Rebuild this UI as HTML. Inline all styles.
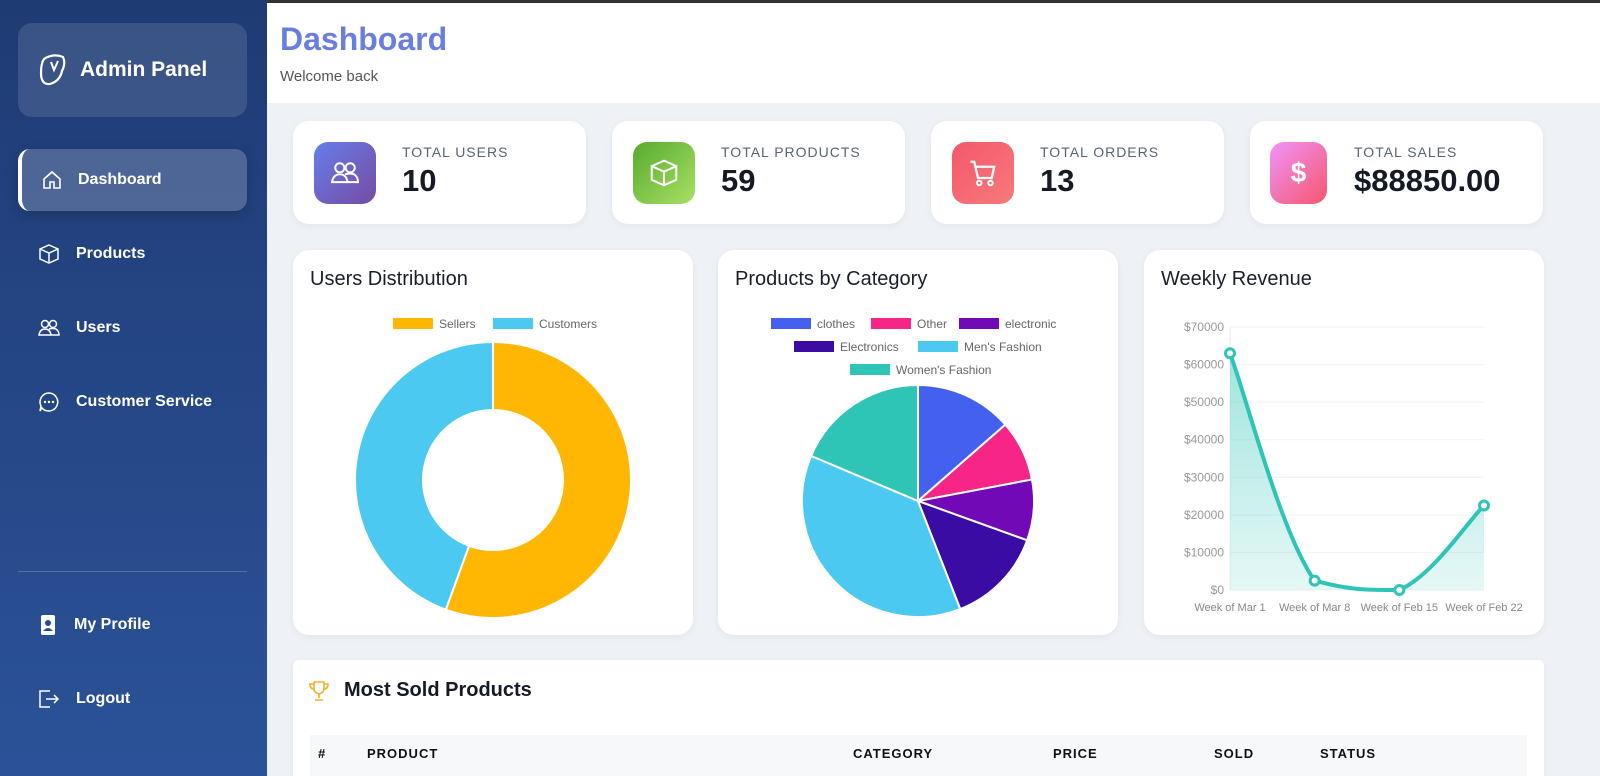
<!DOCTYPE html>
<html><head><meta charset="utf-8">
<style>
*{box-sizing:border-box;margin:0;padding:0}
html{background:#eef1f6;overflow:hidden}
body{width:1600px;height:776px;overflow:hidden;font-family:"Liberation Sans",sans-serif;background:#eef1f6;position:relative}
.sb{position:absolute;left:0;top:0;width:267px;height:776px;background:linear-gradient(180deg,#1f3b74,#2b5298);color:#fff}
.brand{position:absolute;left:18px;top:23px;width:229px;height:94px;border-radius:14px;background:rgba(255,255,255,.12);display:flex;align-items:center;padding-left:20px;font-weight:bold;font-size:21px}
.nav{position:absolute;left:18px;width:229px;height:62px;border-radius:12px;display:flex;align-items:center;padding-left:20px;font-size:16px;font-weight:bold}
.nav svg{margin-right:16px}
.act{background:rgba(255,255,255,.2);border-left:4px solid #fff;box-shadow:0 4px 12px rgba(0,0,0,.2)}
.hdr{position:absolute;left:267px;top:0;width:1333px;height:103px;background:#fff;border-top:3px solid #333}
.card{position:absolute;background:#fff;border-radius:16px;box-shadow:0 2px 8px rgba(0,0,0,.05)}
.ic{position:absolute;left:21px;top:21px;width:62px;height:62px;border-radius:14px;display:flex;align-items:center;justify-content:center;color:#fff}
.lbl{position:absolute;left:109px;top:23px;font-size:14px;letter-spacing:1px;color:#5b6472}
.val{position:absolute;left:109px;top:42px;font-size:31px;font-weight:bold;color:#151a26}
.ct{position:absolute;left:17px;top:18px;font-size:20px;color:#1a1f2b}
th{font-size:13px;text-align:left;font-weight:bold;color:#111;letter-spacing:1px}
</style></head><body>
<div class="sb">
<div class="brand"><svg width="30" height="34" viewBox="0 0 30 34" style="margin-right:12px"><path d="M6 6 Q15 0 25 4 Q28 10 24 18 Q22 28 12 31 Q3 32 3 20 Q3 10 6 6Z" fill="none" stroke="#fff" stroke-width="2.2"/><path d="M13 9 L16 17 L20 8" fill="none" stroke="#fff" stroke-width="2"/></svg>Admin Panel</div>
<div class="nav act" style="top:149px"><svg width="20" height="20" viewBox="0 0 20 20"><path d="M2 9 L10 2 L18 9 V18 H12 V12 H8 V18 H2Z" fill="none" stroke="#fff" stroke-width="1.6"/></svg>Dashboard</div>
<div class="nav" style="top:223px"><svg width="22" height="22" viewBox="0 0 22 22"><path d="M11 2 L20 6 V16 L11 20 L2 16 V6Z M2 6 L11 10 L20 6 M11 10 V20" fill="none" stroke="#fff" stroke-width="1.5"/></svg>Products</div>
<div class="nav" style="top:297px"><svg width="22" height="20" viewBox="0 0 22 20"><circle cx="7" cy="6" r="3.5" fill="none" stroke="#fff" stroke-width="1.5"/><circle cx="15" cy="6" r="3.5" fill="none" stroke="#fff" stroke-width="1.5"/><path d="M1 17 Q2 11 7 11 Q12 11 13 17Z M11 11 Q15 10 18 11 Q21 13 21 17 H13" fill="none" stroke="#fff" stroke-width="1.5"/></svg>Users</div>
<div class="nav" style="top:371px"><svg width="22" height="22" viewBox="0 0 22 22"><path d="M11 2 A9 9 0 1 1 4 17 L2 20 L3 15 A9 9 0 0 1 11 2Z" fill="none" stroke="#fff" stroke-width="1.5"/><circle cx="7" cy="11" r="1.2" fill="#fff"/><circle cx="11" cy="11" r="1.2" fill="#fff"/><circle cx="15" cy="11" r="1.2" fill="#fff"/></svg>Customer Service</div>
<div style="position:absolute;left:18px;top:571px;width:229px;height:1px;background:rgba(255,255,255,.2)"></div>
<div class="nav" style="top:594px"><svg width="20" height="22" viewBox="0 0 20 22"><rect x="3" y="1" width="14" height="20" rx="2" fill="#fff"/><circle cx="10" cy="9" r="3" fill="#2a4d8c"/><path d="M5 17 Q10 11 15 17Z" fill="#2a4d8c"/></svg>My Profile</div>
<div class="nav" style="top:668px"><svg width="22" height="20" viewBox="0 0 22 20"><path d="M12 2 H2 V18 H12 M8 10 H20 M16 6 L20 10 L16 14" fill="none" stroke="#fff" stroke-width="1.5"/></svg>Logout</div>
</div>
<div class="hdr">
<div style="position:absolute;left:13px;top:18px;font-size:32px;font-weight:bold;color:#6a7ee0">Dashboard</div>
<div style="position:absolute;left:13px;top:65px;font-size:15px;color:#555">Welcome back</div>
</div>

<div class="card" style="left:293px;top:121px;width:293px;height:103px"><div class="ic" style="background:linear-gradient(135deg,#667eea,#764ba2)"><svg width="30" height="26" viewBox="0 0 22 20"><circle cx="7" cy="6" r="3.5" fill="none" stroke="#fff" stroke-width="1.5"/><circle cx="15" cy="6" r="3.5" fill="none" stroke="#fff" stroke-width="1.5"/><path d="M1 17 Q2 11 7 11 Q12 11 13 17Z M11 11 Q15 10 18 11 Q21 13 21 17 H13" fill="none" stroke="#fff" stroke-width="1.5"/></svg></div><div class="lbl">TOTAL USERS</div><div class="val">10</div></div>
<div class="card" style="left:612px;top:121px;width:293px;height:103px"><div class="ic" style="background:linear-gradient(135deg,#56ab2f,#a8e063)"><svg width="30" height="30" viewBox="0 0 22 22"><path d="M11 2 L20 6 V16 L11 20 L2 16 V6Z M2 6 L11 10 L20 6 M11 10 V20" fill="none" stroke="#fff" stroke-width="1.5"/></svg></div><div class="lbl">TOTAL PRODUCTS</div><div class="val">59</div></div>
<div class="card" style="left:931px;top:121px;width:293px;height:103px"><div class="ic" style="background:linear-gradient(135deg,#f5576c,#f77a7a)"><svg width="30" height="30" viewBox="0 0 24 24"><path d="M2 3 H5 L8 16 H19 L21 7 H6" fill="none" stroke="#fff" stroke-width="1.8"/><circle cx="9" cy="20" r="1.8" fill="none" stroke="#fff" stroke-width="1.6"/><circle cx="18" cy="20" r="1.8" fill="none" stroke="#fff" stroke-width="1.6"/></svg></div><div class="lbl">TOTAL ORDERS</div><div class="val">13</div></div>
<div class="card" style="left:1250px;top:121px;width:293px;height:103px"><div class="ic" style="left:20px;width:57px;background:linear-gradient(135deg,#f093fb,#f5576c);font-size:28px;font-weight:bold">$</div><div class="lbl" style="left:104px">TOTAL SALES</div><div class="val" style="left:104px">$88850.00</div></div>

<div class="card" style="left:293px;top:250px;width:400px;height:385px"><div class="ct">Users Distribution</div><svg id="donut" width="400" height="385" style="position:absolute;left:0;top:0"></svg></div>
<div class="card" style="left:718px;top:250px;width:400px;height:385px"><div class="ct">Products by Category</div><svg id="pie" width="400" height="385" style="position:absolute;left:0;top:0"></svg></div>
<div class="card" style="left:1144px;top:250px;width:400px;height:385px"><div class="ct">Weekly Revenue</div><svg id="line" width="400" height="385" style="position:absolute;left:0;top:0"></svg></div>

<div class="card" style="left:293px;top:660px;width:1251px;height:140px;border-radius:6px">
<svg style="position:absolute;left:15px;top:20px" width="22" height="22" viewBox="0 0 22 22"><path d="M6 2 H16 V8 Q16 13 11 14 Q6 13 6 8Z M11 14 V18 M7 20 H15 M6 4 H2 Q2 9 6 9 M16 4 H20 Q20 9 16 9" fill="none" stroke="#f0b429" stroke-width="1.6"/></svg>
<div style="position:absolute;left:51px;top:19px;font-size:20px;font-weight:bold;color:#151a26">Most Sold Products</div>
<div style="position:absolute;left:17px;top:75px;width:1217px;height:60px;background:#f6f8fa"></div>
<table style="position:absolute;left:25px;top:86px;border-collapse:collapse"><tr><th style="width:49px">#</th><th style="width:486px">PRODUCT</th><th style="width:200px">CATEGORY</th><th style="width:161px">PRICE</th><th style="width:106px">SOLD</th><th>STATUS</th></tr></table>
</div>

<script>
const NS="http://www.w3.org/2000/svg";
function mk(p,t,a){const e=document.createElementNS(NS,t);for(const k in a)e.setAttribute(k,a[k]);p.appendChild(e);return e;}
function txt(p,x,y,s,o){const e=mk(p,'text',Object.assign({x:x,y:y,'font-size':12,fill:'#666','font-family':'Liberation Sans, sans-serif'},o||{}));e.textContent=s;return e;}

const userLabels=["Sellers","Customers"];
const userValues=[5,4];
const userColors=["#ffb703","#4cc9f0"];
const catLabels=["clothes","Other","electronic","Electronics","Men's Fashion","Women's Fashion"];
const catValues=[8,5,5,8,22,11];
const catColors=["#4361ee","#f72585","#7209b7","#3a0ca3","#4cc9f0","#2ec4b6"];
const weekLabels=["Week of Mar 1","Week of Mar 8","Week of Feb 15","Week of Feb 22"];
const revenueValues=[63000,2500,0,22500];
const yTicks=[0,10000,20000,30000,40000,50000,60000,70000];

function arcs(svg,vals,cols,cx,cy,r,ri,nm){
  const tot=vals.reduce((a,b)=>a+b,0);let a0=0;
  vals.forEach((v,i)=>{
    const a1=a0+v/tot*2*Math.PI;
    const p=(a,rr)=>[cx+rr*Math.sin(a),cy-rr*Math.cos(a)];
    const L=(a1-a0)>Math.PI?1:0;
    const [x0,y0]=p(a0,r),[x1,y1]=p(a1,r);
    let d=`M${x0} ${y0} A${r} ${r} 0 ${L} 1 ${x1} ${y1}`;
    if(ri>0){const [x2,y2]=p(a1,ri),[x3,y3]=p(a0,ri);d+=` L${x2} ${y2} A${ri} ${ri} 0 ${L} 0 ${x3} ${y3}Z`;}
    else d+=` L${cx} ${cy}Z`;
    const e=mk(svg,'path',{d:d,fill:cols[i],stroke:'#fff','stroke-width':2});
    
    
    a0=a1;
  });
}
function legend(svg,labels,cols,rows){
  rows.forEach((row,ri)=>{
    const wOf=i=>40+6+labels[i].length*6.0;
    let w=row.reduce((s,i)=>s+wOf(i),0)+(row.length-1)*12;
    let x=200-w/2;const y=73+ri*23;
    row.forEach(i=>{
      const r=mk(svg,'rect',{x:x,y:y-5,width:40,height:11,fill:cols[i]});
      
      
      txt(svg,x+46,y+5,labels[i]);
      x+=wOf(i)+12;
    });
  });
}
const dn=document.getElementById('donut');
legend(dn,userLabels,userColors,[[0,1]]);
arcs(dn,userValues,userColors,200,230,138,70,'donut-slice');
const pe=document.getElementById('pie');
legend(pe,catLabels,catColors,[[0,1,2],[3,4],[5]]);
arcs(pe,catValues,catColors,200,251,116,0,'pie-slice');

const ln=document.getElementById('line');
const X0=86,X1=340,Y0=340,Y1=77,max=70000;
const xs=i=>X0+i*(X1-X0)/(weekLabels.length-1);
const ys=v=>Y0-v/max*(Y0-Y1);
yTicks.forEach(t=>{mk(ln,'line',{x1:X0,x2:X1,y1:ys(t),y2:ys(t),stroke:'#f2f2f2'});txt(ln,X0-6,ys(t)+4,'$'+t,{'text-anchor':'end',fill:'#999'});});
mk(ln,'line',{x1:X0,x2:X0,y1:Y1,y2:Y0,stroke:'#eee'});
weekLabels.forEach((w,i)=>txt(ln,xs(i),361,w,{'text-anchor':'middle',fill:'#888','font-size':11}));
const pts=revenueValues.map((v,i)=>[xs(i),ys(v)]);
function curve(p){let d=`M${p[0][0]} ${p[0][1]}`;for(let i=0;i<p.length-1;i++){const a=p[i-1]||p[i],b=p[i],c=p[i+1],e=p[i+2]||c;const t=0.2;d+=` C${b[0]+(c[0]-a[0])*t} ${Math.min(Y0,b[1]+(c[1]-a[1])*t)} ${c[0]-(e[0]-b[0])*t} ${Math.min(Y0,c[1]-(e[1]-b[1])*t)} ${c[0]} ${c[1]}`;}return d;}
const cd=curve(pts);
const defs=mk(ln,'defs',{});const g=mk(defs,'linearGradient',{id:'gf',x1:0,y1:0,x2:0,y2:1});
mk(g,'stop',{offset:0,'stop-color':'#2ec4b6','stop-opacity':.45});mk(g,'stop',{offset:1,'stop-color':'#2ec4b6','stop-opacity':.12});
mk(ln,'path',{d:cd+` L${xs(3)} ${Y0} L${xs(0)} ${Y0}Z`,fill:'url(#gf)'});
const lp=mk(ln,'path',{d:cd,fill:'none',stroke:'#2ec4b6','stroke-width':4});


pts.forEach(p=>{const c=mk(ln,'circle',{cx:p[0],cy:p[1],r:4.5,fill:'#fff',stroke:'#2ec4b6','stroke-width':3});

});
</script>
</body></html>
